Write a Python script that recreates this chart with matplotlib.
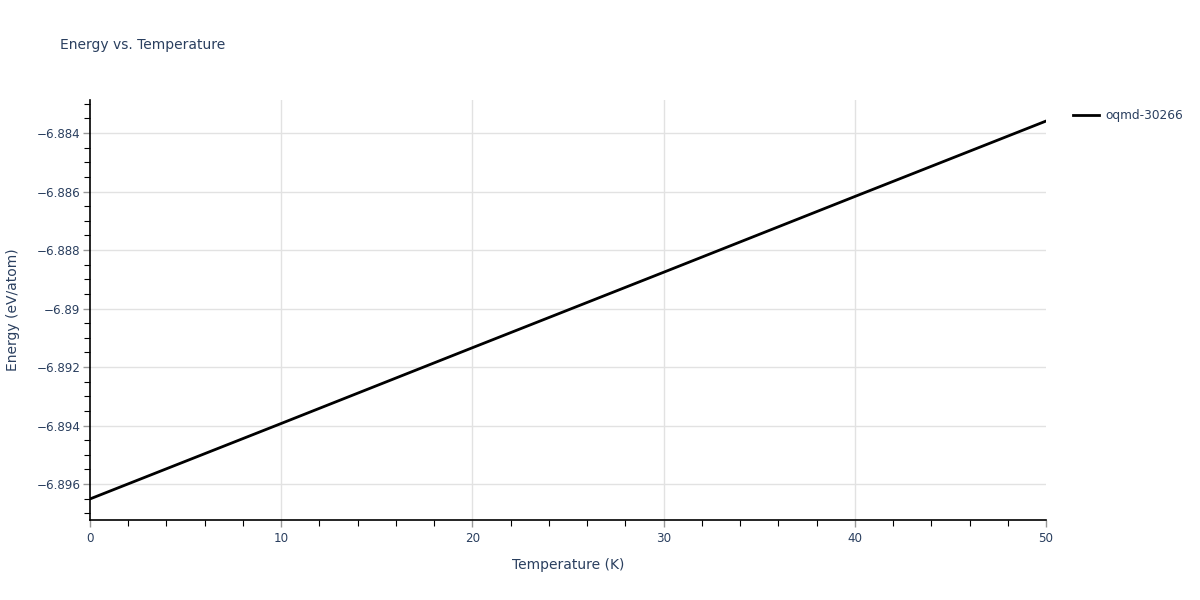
import matplotlib
matplotlib.use("Agg")
import matplotlib.pyplot as plt
from matplotlib.ticker import MultipleLocator, FuncFormatter

temperature = [0, 10, 20, 30, 40, 50]
energy = [-6.89651, -6.89393, -6.89134, -6.88876, -6.88617, -6.88359]
series_name = "oqmd-30266"

plt.rcParams['font.family'] = ['DejaVu Sans']
txt = '#2a3f5f'
grid = '#e2e2e2'

fig = plt.figure(figsize=(12, 6), dpi=100)
ax = fig.add_axes([90/1200, 80/600, (1046-90)/1200, 420/600])

ax.plot(temperature, energy, color='black', lw=2, label=series_name)
ax.set_xlim(0, 50)
ax.set_ylim(-6.89723, -6.88287)

ax.xaxis.set_major_locator(MultipleLocator(10))
ax.xaxis.set_minor_locator(MultipleLocator(2))
ax.yaxis.set_major_locator(MultipleLocator(0.002))
ax.yaxis.set_minor_locator(MultipleLocator(0.0005))

def fmt(v, pos):
    s = f"{v:.3f}".rstrip('0').rstrip('.')
    return s.replace('-', '\u2212')
ax.yaxis.set_major_formatter(FuncFormatter(fmt))

ax.grid(True, which='major', color=grid, lw=1)
ax.set_axisbelow(True)
for sp in ['top', 'right']:
    ax.spines[sp].set_visible(False)
for sp in ['left', 'bottom']:
    ax.spines[sp].set_color('black')
    ax.spines[sp].set_linewidth(1.2)

ax.tick_params(which='major', length=5, color='#999999', labelsize=8.6, labelcolor=txt, direction='out', width=1)
ax.tick_params(which='minor', length=4, color='black', direction='out', width=0.8)
ax.tick_params(axis='y', which='major', pad=2)
ax.tick_params(axis='x', which='major', pad=4)

ax.set_xlabel("Temperature (K)", color=txt, fontsize=10, labelpad=9)
ax.set_ylabel("Energy (eV/atom)", color=txt, fontsize=10, labelpad=12)
fig.text(60/1200, 1-45/600, "Energy vs. Temperature", color=txt, fontsize=10, va='center', ha='left')

fig.canvas.draw()
xt = ax.get_xticks()
for t, gl in zip(xt, ax.xaxis.get_gridlines()):
    if abs(t) < 1e-9 or abs(t - 50) < 1e-9:
        gl.set_visible(False)

leg = ax.legend(loc='upper left', bbox_to_anchor=(1068/1200, 1-104/600), bbox_transform=fig.transFigure,
                frameon=False, fontsize=8.7, handlelength=2.2, handletextpad=0.5, borderaxespad=0, labelcolor=txt)

fig.savefig("out.png", dpi=100)
